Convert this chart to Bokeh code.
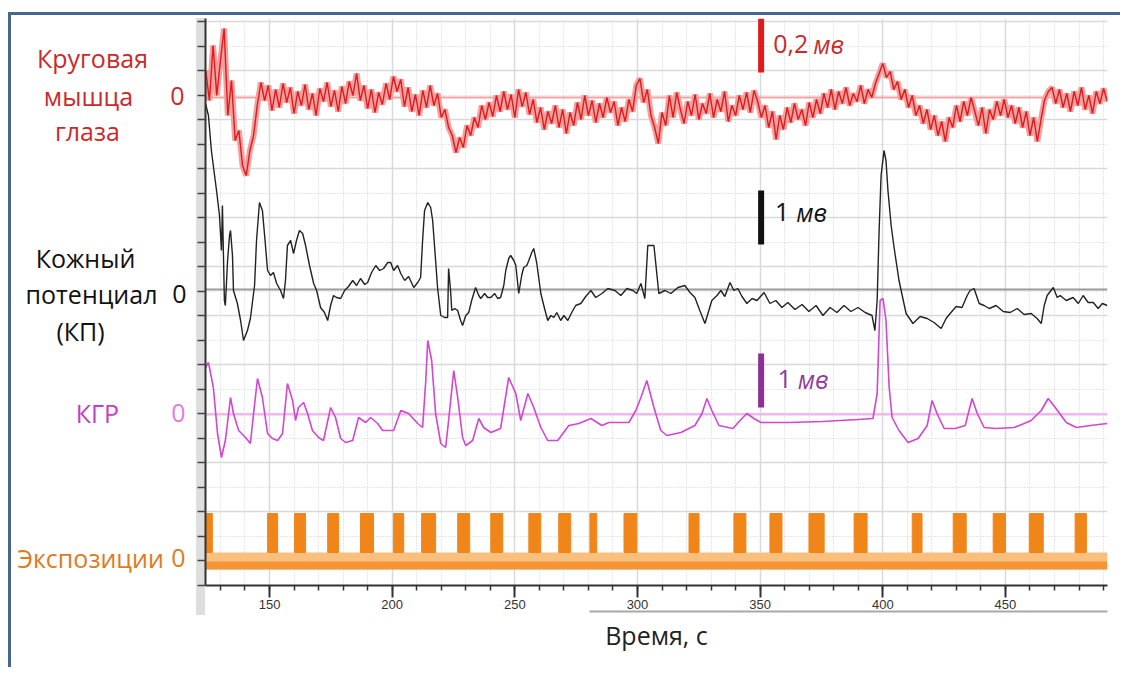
import numpy as np
from bokeh.plotting import figure
from bokeh.layouts import row
from bokeh.models import Range1d, FixedTicker, Grid, LinearAxis, Span, ColumnDataSource
from bokeh.core.properties import value
from bokeh.embed import file_html
from bokeh.resources import INLINE

# ---------------- data (time in s, amplitudes in counts relative to each channel's zero) -------------
RED_T0 = 124.0
RED_DT = 1.5
RED_V = [27, -3, 52, 2, 37, 69, -18, 17, -43, -33,
         -68, -78, -53, -38, -8, 15, -3, 12, -13, 8,
         -10, 14, -5, 10, -16, 6, -8, 13, -12, 4,
         -18, 9, -4, 15, -9, 7, -14, 11, -6, 16,
         2, 24, -3, 12, -11, 8, -15, 5, -7, 14,
         -2, 21, 6, 18, -9, 10, -14, 3, -18, 7,
         -10, 12, -8, 4, -20, -12, -30, -38, -55, -40,
         -50, -28, -38, -20, -30, -8, -22, -5, -19, 2,
         -14, 6, -12, 3, -20, 8, -9, 5, -17, -2,
         -25, -10, -32, -14, -26, -8, -30, -12, -36, -15,
         -28, -5, -22, 2, -18, -3, -25, -6, -20, 0,
         -15, -4, -28, -10, -24, -2, -14, 12, 19, -5,
         8, -18, -30, -46, -15, -28, 2, -20, 5, -12,
         -26, -4, -18, 3, -22, -6, -16, 4, -20, -2,
         -14, 6, -24, -8, -18, 2, -12, 5, -15, 7,
         -4, -20, -8, -30, -14, -42, -18, -32, -10, -25,
         -6, -22, -12, -28, -5, -20, -2, -16, 4, -10,
         8, -12, 6, -6, 10, -8, 4, -4, 12, -6,
         8, 0, 14, 24, 34, 20, 26, 8, 16, -2,
         8, -10, 2, -18, -8, -26, -12, -32, -18, -38,
         -24, -44, -20, -30, -8, -24, -4, -18, 0, -14,
         -28, -10, -36, -12, -22, -4, -18, -2, -20, -8,
         -26, -10, -30, -14, -38, -20, -44, -22, -2, 6,
         10, -6, 8, -10, 4, -14, 6, -8, 10, -12,
         2, -16, 6, -6, 9, -4]

BLACK_T = [123.9, 125.1, 126.3, 127.6, 128.4, 129.6, 130.4, 130.8, 131.6, 132.0,
           132.9, 133.7, 134.1, 134.9, 135.3, 136.9, 138.2, 139.4, 141.0, 142.2,
           143.9, 144.7, 145.9, 147.1, 148.0, 149.2, 150.4, 151.6, 152.9, 154.5,
           155.7, 156.5, 157.3, 158.6, 159.8, 161.0, 162.2, 163.5, 164.7, 166.3,
           168.0, 169.2, 170.8, 172.4, 173.7, 174.9, 176.1, 177.3, 179.0, 180.6,
           182.2, 183.9, 185.5, 187.1, 188.8, 190.0, 191.6, 193.3, 194.9, 196.5,
           198.2, 199.4, 200.6, 202.2, 203.5, 205.1, 206.7, 208.8, 210.4, 211.6,
           212.4, 213.2, 214.5, 215.7, 216.5, 217.7, 218.5, 219.8, 221.4, 222.6,
           223.0, 223.8, 224.3, 225.5, 226.7, 227.9, 228.7, 230.0, 231.2, 232.4,
           234.0, 235.3, 236.1, 237.7, 238.9, 240.2, 241.8, 243.0, 244.2, 245.5,
           246.3, 247.5, 248.3, 249.6, 250.4, 251.6, 252.8, 253.6, 254.9, 255.7,
           256.9, 257.7, 258.9, 260.6, 261.8, 263.4, 264.7, 265.9, 267.1, 268.7,
           270.0, 271.6, 273.2, 274.8, 276.9, 278.9, 281.0, 283.0, 285.5, 287.9,
           290.8, 293.2, 295.7, 298.1, 299.7, 301.4, 303.0, 304.2, 306.7, 308.7,
           311.2, 313.6, 316.5, 319.3, 321.4, 323.4, 325.4, 327.5, 330.3, 332.4,
           334.0, 335.6, 337.7, 339.3, 340.9, 342.6, 344.6, 346.7, 348.7, 351.6,
           354.0, 356.4, 358.9, 361.3, 364.2, 367.1, 369.9, 372.8, 375.6, 378.5,
           381.3, 384.2, 387.0, 389.9, 392.8, 395.6, 396.8, 397.7, 398.5, 399.3,
           400.5, 401.3, 402.1, 403.4, 404.6, 406.6, 409.5, 412.3, 415.2, 418.1,
           420.9, 423.8, 425.8, 427.8, 429.9, 432.3, 434.4, 435.6, 437.2, 439.3,
           441.3, 443.4, 446.2, 449.1, 451.9, 454.8, 457.6, 460.5, 462.9, 464.6,
           465.8, 467.0, 469.5, 471.1, 472.3, 474.8, 477.6, 479.7, 481.7, 483.7,
           485.8, 487.8, 489.5, 491.5]
BLACK_V = [186, 174, 139, 114, 99, 74, 39, 84, -11, -16,
           29, 54, 59, 34, -1, -14, -31, -51, -41, -29,
           4, 49, 87, 79, 54, 19, 14, 17, 6, -1,
           -9, 9, 44, 49, 36, 49, 59, 56, 44, 24,
           6, -1, -18, -23, -31, -16, -6, -8, -9, -1,
           3, 9, 4, 11, 5, 7, 17, 24, 19, 21,
           27, 27, 19, 24, 16, 9, 13, 2, 7, 12,
           49, 79, 87, 82, 69, 29, 2, -26, -28, -28,
           21, -1, -21, -19, -21, -31, -36, -26, -23, -11,
           2, -6, -9, -4, -8, -8, -4, -9, -8, 4,
           19, 31, 34, 29, 24, -4, 14, 22, 24, 29,
           37, 41, 27, -4, -16, -31, -26, -28, -23, -31,
           -26, -31, -23, -16, -14, -7, -1, -8, -4, 1,
           -1, -6, 1, -1, -4, 6, -9, 44, 44, -4,
           -1, -4, 2, 4, -3, -8, -21, -34, -11, -6,
           -1, -7, 7, -1, 1, -7, -14, -9, -11, -3,
           -14, -11, -18, -13, -20, -15, -22, -16, -26, -18,
           -23, -16, -22, -18, -23, -26, -41, -11, 59, 114,
           139, 129, 99, 64, 42, 9, -24, -34, -27, -29,
           -33, -39, -29, -23, -17, -18, -6, -1, 1, -14,
           -16, -19, -16, -22, -23, -19, -25, -24, -29, -34,
           -16, -6, 2, -8, -6, -11, -8, -14, -6, -13,
           -13, -19, -14, -16]

MAG_T = [123.9, 125.1, 127.1, 128.8, 130.4, 132.0, 134.1, 135.3, 137.4, 140.2,
         142.2, 143.5, 145.1, 147.1, 149.2, 151.2, 153.3, 155.3, 157.3, 159.4,
         160.6, 161.8, 163.9, 165.5, 167.5, 170.0, 172.0, 174.9, 176.9, 179.0,
         181.0, 183.9, 186.3, 189.2, 191.2, 194.1, 196.1, 200.6, 203.5, 206.7,
         210.4, 212.4, 213.7, 214.5, 216.1, 217.7, 219.8, 221.8, 223.0, 225.1,
         226.7, 228.7, 230.0, 232.8, 235.3, 237.3, 240.2, 244.2, 247.5, 250.4,
         252.4, 255.3, 257.7, 260.6, 263.4, 267.5, 272.0, 276.1, 281.0, 285.5,
         288.3, 292.4, 296.5, 299.3, 301.4, 303.8, 306.7, 309.5, 312.0, 317.7,
         323.4, 326.3, 328.3, 330.3, 333.2, 338.9, 341.8, 344.6, 347.5, 350.3,
         361.8, 375.6, 389.9, 396.0, 397.7, 398.9, 400.1, 401.3, 402.6, 403.8,
         406.6, 410.3, 414.4, 418.1, 420.1, 422.1, 425.0, 429.5, 433.6, 436.4,
         438.5, 441.3, 446.2, 453.6, 460.5, 464.6, 467.4, 470.3, 474.8, 478.9,
         484.6, 491.5]
MAG_V = [47, 52, 27, -19, -43, -26, 17, 1, -16, -23,
         -29, 1, 36, 17, -19, -24, -26, -19, 31, 14,
         -6, 7, 12, 1, -16, -23, -26, 7, -3, -24,
         -28, -26, -3, -8, -3, -9, -16, -16, 4, 1,
         -9, -13, 34, 74, 54, 1, -29, -33, -6, 44,
         17, -23, -31, -26, -4, -13, -18, -14, 37, 21,
         -6, 21, 7, -13, -26, -26, -11, -9, -4, -11,
         -8, -8, -8, 4, 17, 34, 7, -16, -21, -18,
         -11, 1, 16, 4, -11, -14, -6, 1, -4, -8,
         -8, -7, -5, -4, 21, 114, 116, 94, 27, -3,
         -16, -28, -24, -11, 14, 1, -14, -14, -11, 16,
         1, -13, -14, -13, -6, 4, 16, 7, -8, -13,
         -11, -9]

EXPO_START = [123.9, 149.2, 160.2, 173.7, 187.1, 200.6, 212.0, 226.7, 240.2, 255.7, 267.9, 280.6,
              294.5, 321.0, 339.3, 354.0, 369.9, 388.3, 412.0, 428.7, 445.0, 459.7, 478.4]
EXPO_END = [126.7, 153.3, 164.7, 178.2, 192.4, 204.7, 217.7, 231.6, 245.1, 260.6, 272.8, 283.4,
            299.7, 325.1, 344.2, 358.9, 376.1, 393.6, 416.0, 434.0, 450.0, 465.4, 483.0]
EXPO_ON = 47          # counts, exposure marker level
EXPO_NOISE = (-9, 8)  # counts, idle-level noise band

X_TICKS = [150, 200, 250, 300, 350, 400, 450]
X_MINOR = list(range(130, 491, 10))

SCALE_T = 350.4
SCALE_TEXT = ["0,2", "1", "1"]
SCALE_UNIT = "мв"
SCALE_COUNTS = [54, 54, 54]

CHANNEL_NAMES = ["Круговая", "мышца", "глаза", "Кожный", "потенциал", "(КП)", "КГР", "Экспозиции"]
X_TITLE = "Время, с"

# ---------------- layout constants ----------------
X0, X1 = 123.9, 491.6
Y0, Y1 = 0, 567
RED_BASE, BLACK_BASE, MAG_BASE, EXPO_BASE = 488, 296, 171, 25
DIV = 24.52
FONT = "Open Sans"
H = 652
LW = 182

p = figure(width=927, height=H, output_backend="svg", toolbar_location=None,
           x_range=Range1d(X0, X1), y_range=Range1d(Y0, Y1),
           min_border_left=12, min_border_right=13, min_border_top=3, min_border_bottom=82)
p.outline_line_color = None
p.border_fill_color = None
p.xgrid.visible = False
p.ygrid.visible = False
# light-grey strip behind the left axis (shows through the transparent border)
p.styles = {"background-image": "linear-gradient(#dedede, #dedede)",
            "background-repeat": "no-repeat",
            "background-position": "3px 3px",
            "background-size": "9px 597px"}

# x axis
xa = p.xaxis[0]
xa.ticker = FixedTicker(ticks=X_TICKS, minor_ticks=X_MINOR)
xa.axis_line_color = "#333333"
xa.axis_line_width = 2
xa.major_tick_in = 0
xa.major_tick_out = 12
xa.minor_tick_in = 0
xa.minor_tick_out = 5
xa.major_tick_line_color = "#333333"
xa.major_tick_line_width = 2
xa.minor_tick_line_color = "#333333"
xa.minor_tick_line_width = 1.5
xa.major_label_text_align = "left"
xa.major_label_text_font = "Liberation Sans"
xa.major_label_text_font_size = "13px"
xa.major_label_text_color = "#333333"
xa.major_label_standoff = 2

# y axis (unlabelled divisions drawn as minor ticks)
y_ticks = [DIV * k for k in range(24)]
ya = p.yaxis[0]
ya.ticker = FixedTicker(ticks=[], minor_ticks=y_ticks)
ya.axis_line_color = "#333333"
ya.axis_line_width = 2
ya.major_tick_in = 0
ya.major_tick_out = 0
ya.minor_tick_in = 0
ya.minor_tick_out = 8
ya.minor_tick_line_color = "#444444"
ya.minor_tick_line_width = 1.5
ya.major_label_standoff = 0
try:
    ya.background_fill_color = "#dedede"
except Exception:
    pass

# second bottom line (scroll bar) and the axis title
ax2 = LinearAxis(ticker=FixedTicker(ticks=[]), axis_line_color="#a8a8a8", axis_line_width=2,
                 major_tick_out=0, minor_tick_out=0, bounds=(280.6, X1))
p.add_layout(ax2, "below")
ax3 = LinearAxis(ticker=FixedTicker(ticks=[]), axis_line_color=None,
                 major_tick_out=0, minor_tick_out=0, axis_label=X_TITLE,
                 axis_label_text_font=FONT, axis_label_text_font_size="25px",
                 axis_label_text_font_style="normal", axis_label_text_color="#222222",
                 axis_label_standoff=6)
p.add_layout(ax3, "below")

# grids
vg = Grid(dimension=0, ticker=FixedTicker(ticks=X_TICKS, minor_ticks=X_MINOR),
          grid_line_color="#d9d9d9", grid_line_width=1.5,
          minor_grid_line_color="#cfcfcf", minor_grid_line_dash="1 2", minor_grid_line_width=1)
hg1 = Grid(dimension=1, ticker=FixedTicker(ticks=y_ticks[1::2]),
           grid_line_color="#d9d9d9", grid_line_width=1.5)
hg2 = Grid(dimension=1, ticker=FixedTicker(ticks=y_ticks[0::2]),
           grid_line_color="#cfcfcf", grid_line_width=1, grid_line_dash="1 2")
p.add_layout(vg)
p.add_layout(hg1)
p.add_layout(hg2)

# zero lines
for base, col in [(RED_BASE, "#f3a3a3"), (BLACK_BASE, "#9a9a9a"), (MAG_BASE, "#f0b4f0")]:
    p.add_layout(Span(location=base, dimension="width", line_color=col, line_width=2, level="underlay"))

# red EMG
red_t = RED_T0 + RED_DT * np.arange(len(RED_V))
red_y = RED_BASE + np.array(RED_V, dtype=float)
p.line(red_t, red_y, line_color="#f4a0a0", line_width=6)
p.line(red_t, red_y, line_color="#dc1b1b", line_width=1.4)

# black skin potential
p.line(BLACK_T, BLACK_BASE + np.array(BLACK_V, dtype=float), line_color="#222222", line_width=1.4)

# magenta GSR
p.line(MAG_T, MAG_BASE + np.array(MAG_V, dtype=float), line_color="#d246d2", line_width=1.6)

# orange exposure markers
p.varea(x=[X0, X1], y1=[EXPO_BASE + EXPO_NOISE[0]] * 2, y2=[EXPO_BASE + EXPO_NOISE[1]] * 2,
        fill_color="#f9bf7c")
p.varea(x=[X0, X1], y1=[EXPO_BASE + EXPO_NOISE[0]] * 2, y2=[EXPO_BASE - 1] * 2,
        fill_color="#f28c24", fill_alpha=0.8)
p.quad(left=EXPO_START, right=EXPO_END, bottom=EXPO_BASE + EXPO_NOISE[1], top=EXPO_BASE + EXPO_ON,
       fill_color="#f0861a", line_color="#f0861a")

# scale bars
bar_bottoms = [513, 341, 178]
bar_cols = ["#e11b1b", "#111111", "#8e2f97"]
p.segment(x0=[SCALE_T] * 3, x1=[SCALE_T] * 3, y0=bar_bottoms,
          y1=[b + c for b, c in zip(bar_bottoms, SCALE_COUNTS)], line_color=bar_cols, line_width=6)

scale_src = ColumnDataSource(dict(
    x=[355.3, 356.1, 357.1], y=[542, 374, 207], text=SCALE_TEXT,
    c=["#cc2a2a", "#111111", "#8e3a9e"]))
p.text(x="x", y="y", text="text", text_color="c", source=scale_src, text_font=value(FONT),
       text_font_size=value("25px"), text_align="left", text_baseline="alphabetic")
unit_src = ColumnDataSource(dict(
    x=[371.6, 364.7, 365.3], y=[542, 374, 207], text=[SCALE_UNIT] * 3,
    c=["#cc2a2a", "#111111", "#8e3a9e"]))
p.text(x="x", y="y", text="text", text_color="c", source=unit_src, text_font=value(FONT),
       text_font_size=value("25px"), text_font_style="italic", text_align="left",
       text_baseline="alphabetic")

# ---------------- left panel with the channel names (its frame is aligned with the main frame) -----
lp = figure(width=LW, height=H, output_backend="svg", toolbar_location=None,
            x_range=Range1d(0, LW), y_range=p.y_range,
            x_axis_location=None, y_axis_location=None,
            min_border_left=0, min_border_right=0, min_border_top=3, min_border_bottom=82)
lp.grid.visible = False
lp.outline_line_color = None

RED_C, BLK_C, MAG_C, MAG0_C, ORG_C = "#cc2a2a", "#111111", "#c43fc4", "#e37ae3", "#e07a1e"
name_src = ColumnDataSource(dict(
    x=[81, 77, 76, 74, 80, 69, 86, 79],
    y=[528, 490, 455, 328, 292, 255, 173, 28],
    text=CHANNEL_NAMES,
    c=[RED_C, RED_C, RED_C, BLK_C, BLK_C, BLK_C, MAG_C, ORG_C]))
lp.text(x="x", y="y", text="text", text_color="c", source=name_src, text_font=value(FONT),
        text_font_size=value("25px"), text_align="center", text_baseline="alphabetic")
zero_src = ColumnDataSource(dict(
    x=[166, 168, 167, 167], y=[490, 292, 173, 28], text=["0", "0", "0", "0"],
    c=[RED_C, BLK_C, MAG0_C, ORG_C]))
lp.text(x="x", y="y", text="text", text_color="c", source=zero_src, text_font=value(FONT),
        text_font_size=value("25px"), text_align="center", text_baseline="alphabetic")

layout = row(lp, p, spacing=0)
layout.margin = (12, 0, 0, 8)
layout.styles = {"border-top": "3px solid #4a6490", "border-left": "3px solid #4a6490"}

open("out.html", "w").write(file_html(layout, INLINE))
